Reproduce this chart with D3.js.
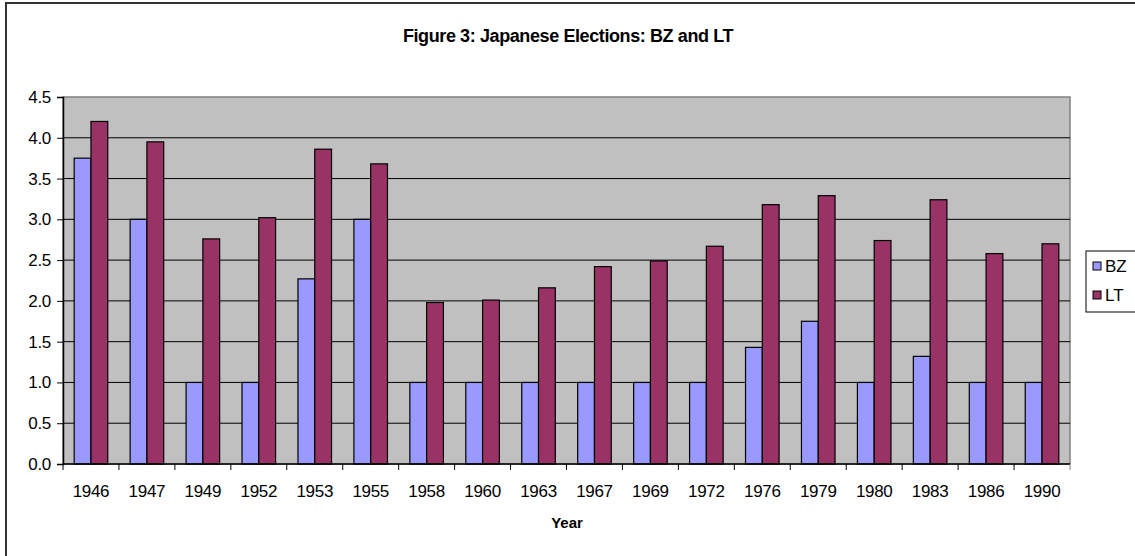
<!DOCTYPE html>
<html>
<head>
    <title>Figure 3: Japanese Elections: BZ and LT</title>
    <script src="https://d3js.org/d3.v7.min.js"></script>
    <style>
        body { margin: 0; font-family: Arial, "Liberation Sans", sans-serif; background: #fff; }
        text { font-family: Arial, "Liberation Sans", sans-serif; }
    </style>
</head>
<body>
<div id="chart"></div>
<script>
    const years = ["1946", "1947", "1949", "1952", "1953", "1955", "1958", "1960", "1963",
        "1967", "1969", "1972", "1976", "1979", "1980", "1983", "1986", "1990"];
    const bz = [3.75, 3.0, 1.0, 1.0, 2.27, 3.0, 1.0, 1.0, 1.0, 1.0, 1.0, 1.0, 1.43, 1.75, 1.0, 1.32, 1.0, 1.0];
    const lt = [4.2, 3.95, 2.76, 3.02, 3.86, 3.68, 1.98, 2.01, 2.16, 2.42, 2.49, 2.67, 3.18, 3.29, 2.74, 3.24, 2.58, 2.70];
    const seriesNames = ["BZ", "LT"];
    const yTicks = [0, 0.5, 1, 1.5, 2, 2.5, 3, 3.5, 4, 4.5];

    const colors = { BZ: "#9999FF", LT: "#993366" };
    const W = 1135, H = 556;
    const plot = { left: 63, right: 1070, top: 97, bottom: 464 };

    const svg = d3.select("#chart").append("svg")
        .attr("width", W).attr("height", H);

    // outer chart border
    svg.append("rect")
        .attr("x", 6).attr("y", 3)
        .attr("width", W + 20).attr("height", H + 20)
        .attr("fill", "#fff").attr("stroke", "#333").attr("stroke-width", 2);

    svg.append("text")
        .attr("x", 568).attr("y", 42)
        .attr("text-anchor", "middle")
        .attr("font-size", 18).attr("font-weight", "bold")
        .attr("letter-spacing", "-0.4")
        .text("Figure 3: Japanese Elections: BZ and LT");

    const x = d3.scaleBand().domain(years)
        .range([plot.left, plot.right])
        .paddingInner(0.4).paddingOuter(0.2);
    const xs = d3.scaleBand().domain(seriesNames).range([0, x.bandwidth()]);
    const y = d3.scaleLinear().domain([0, 4.5]).range([plot.bottom, plot.top]);

    // plot background
    svg.append("rect")
        .attr("x", plot.left).attr("y", plot.top)
        .attr("width", plot.right - plot.left).attr("height", plot.bottom - plot.top)
        .attr("fill", "#C0C0C0").attr("stroke", "#808080").attr("stroke-width", 1.5);

    // gridlines
    svg.append("g").selectAll("line")
        .data(yTicks.filter(d => d > 0 && d < 4.5))
        .join("line")
        .attr("x1", plot.left).attr("x2", plot.right)
        .attr("y1", d => y(d)).attr("y2", d => y(d))
        .attr("stroke", "#000").attr("stroke-width", 1);

    const data = years.map((yr, i) => ({ year: yr, BZ: bz[i], LT: lt[i] }));

    svg.append("g").selectAll("g")
        .data(data).join("g")
        .attr("transform", d => `translate(${x(d.year)},0)`)
        .selectAll("rect")
        .data(d => seriesNames.map(k => ({ key: k, value: d[k] })))
        .join("rect")
        .attr("x", d => xs(d.key))
        .attr("width", xs.bandwidth())
        .attr("y", d => y(d.value))
        .attr("height", d => y(0) - y(d.value))
        .attr("fill", d => colors[d.key])
        .attr("stroke", "#000").attr("stroke-width", 1.2);

    // y axis
    const yAxis = svg.append("g")
        .attr("transform", `translate(${plot.left},0)`)
        .call(d3.axisLeft(y).tickValues(yTicks).tickFormat(d3.format(".1f")).tickSize(6).tickPadding(6));
    yAxis.selectAll("text").attr("font-size", 17).attr("fill", "#000").attr("letter-spacing", "-0.3");
    yAxis.selectAll("line, path").attr("stroke", "#000");
    yAxis.select(".domain").attr("stroke-width", 1.5);

    // x axis: ticks between categories
    const xAxisG = svg.append("g");
    xAxisG.append("line")
        .attr("x1", plot.left).attr("x2", plot.right)
        .attr("y1", plot.bottom).attr("y2", plot.bottom)
        .attr("stroke", "#000").attr("stroke-width", 1.5);
    const step = x.step();
    xAxisG.selectAll("line.tick")
        .data(years.concat(["end"]))
        .join("line").attr("class", "tick")
        .attr("x1", (d, i) => plot.left + i * step)
        .attr("x2", (d, i) => plot.left + i * step)
        .attr("y1", plot.bottom).attr("y2", plot.bottom + 6)
        .attr("stroke", (d, i) => i === years.length ? "#808080" : "#000");
    xAxisG.selectAll("text")
        .data(years).join("text")
        .attr("x", d => x(d) + x.bandwidth() / 2)
        .attr("y", plot.bottom + 33)
        .attr("text-anchor", "middle")
        .attr("font-size", 17)
        .attr("letter-spacing", "-0.3")
        .text(d => d);

    svg.append("text")
        .attr("x", 567).attr("y", 528)
        .attr("text-anchor", "middle")
        .attr("font-size", 15).attr("font-weight", "bold")
        .text("Year");

    // legend
    const lg = svg.append("g");
    lg.append("rect")
        .attr("x", 1086).attr("y", 251)
        .attr("width", 70).attr("height", 61)
        .attr("fill", "#fff").attr("stroke", "#000").attr("stroke-width", 1);
    seriesNames.forEach((k, i) => {
        const cy = 266 + i * 29;
        lg.append("rect")
            .attr("x", 1093).attr("y", cy - 4)
            .attr("width", 8).attr("height", 8)
            .attr("fill", colors[k]).attr("stroke", "#000");
        lg.append("text")
            .attr("x", 1105).attr("y", cy + 6)
            .attr("font-size", 17)
            .text(k);
    });
</script>
</body>
</html>
